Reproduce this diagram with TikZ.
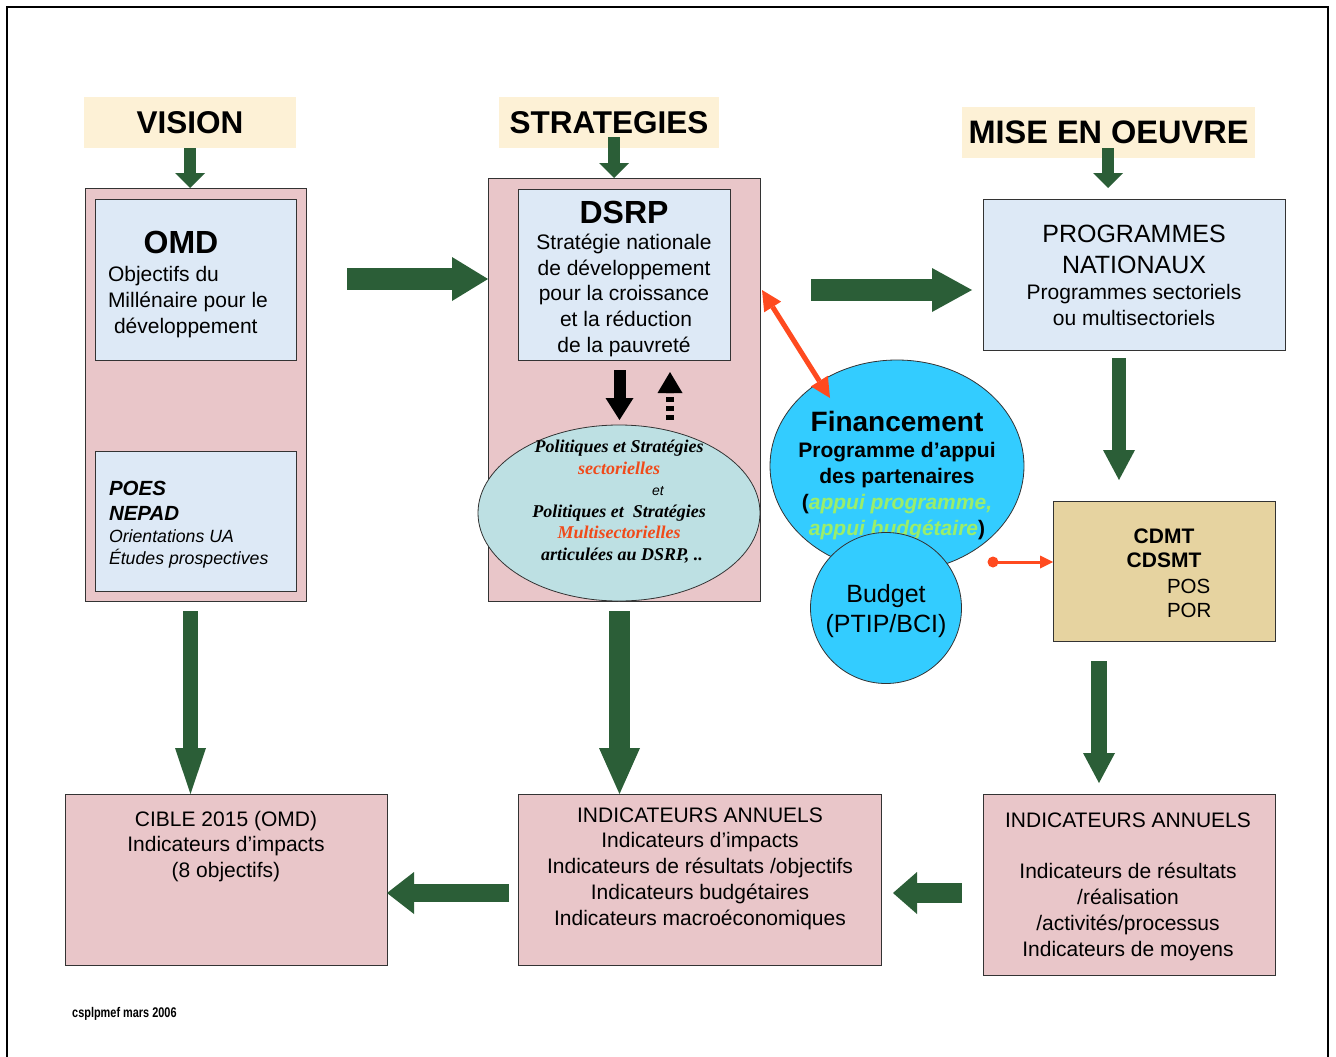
\documentclass[tikz,border=0pt]{standalone}
\usepackage{fontspec}
\setmainfont{Liberation Sans}
\newfontfamily\timesf{Liberation Serif}
\usetikzlibrary{arrows.meta,shapes.geometric}
\definecolor{pinkbox}{HTML}{E9C6C9}
\definecolor{bluebox}{HTML}{DDE9F6}
\definecolor{ellcol}{HTML}{BDE0E3}
\definecolor{circcol}{HTML}{33CCFF}
\definecolor{tancol}{HTML}{E6D3A0}
\definecolor{beige}{HTML}{FDF1D6}
\definecolor{gcol}{HTML}{2B5E37}
\definecolor{redcol}{HTML}{FF4A1F}
\definecolor{redt}{HTML}{F04A1A}
\definecolor{lgreen}{HTML}{9BEE6A}
\newcommand{\fs}[2]{\fontsize{#1}{#2}\selectfont}
\begin{document}
\begin{tikzpicture}[x=1pt,y=-1pt,
  box/.style={draw=black!80, line width=0.8pt, inner sep=0pt, outer sep=0pt},
  pinkb/.style={box, fill=pinkbox},
  blueb/.style={box, fill=bluebox},
  labelb/.style={fill=beige, inner sep=0pt, outer sep=0pt, font=\bfseries\fs{31.5}{31.5}},
  txt/.style={inner sep=0pt, outer sep=0pt, align=center, anchor=base},
  garr/.style n args={3}{draw=gcol, line width=#1, -{Triangle[length=#3, width=#2, line width=0pt]}},
  redarr/.style={draw=redcol, line width=5pt, {Triangle[length=20pt, width=20pt, line width=0pt]}-{Triangle[length=20pt, width=20pt, line width=0pt]}},
]
\useasboundingbox (0,0) rectangle (1336,1057);
\fill[white] (0,0) rectangle (1336,1057);
\draw[line width=1.5pt] (7,1065) -- (7,7) -- (1328,7) -- (1328,1065);

% header labels
\node[labelb, minimum width=212pt, minimum height=51pt] (vision) at (190,122.5) {VISION};
\node[labelb, minimum width=220pt, minimum height=51pt] (strat) at (609,122.5) {STRATEGIES};
\node[labelb, minimum width=293pt, minimum height=51pt, font=\bfseries\fs{32.5}{32.5}] (mise) at (1108.5,132.5) {MISE EN OEUVRE};

% left column
\node[pinkb, minimum width=221pt, minimum height=413pt] (leftbox) at (195.5,394.5) {};
\node[blueb, minimum width=201pt, minimum height=161pt] (omd) at (195.5,279.5) {};
\node[txt, font=\bfseries\fs{32}{32}] (omdtitle) at (181,253) {OMD};
\node[txt, anchor=base west, align=left, font=\fs{21}{26}] (omdtxt) at (108,333) {Objectifs du\\Millénaire pour le\\\hspace{6pt}développement};
\node[blueb, minimum width=201pt, minimum height=140pt] (poes) at (195.5,521) {};
\node[txt, anchor=base west, align=left, font=\bfseries\itshape\fs{20.5}{25}] (poestxt) at (109,520) {POES\\NEPAD};
\node[txt, anchor=base west, align=left, font=\itshape\fs{17.7}{22}] (poestxt2) at (109,564) {Orientations UA\\Études prospectives};

% middle column
\node[pinkb, minimum width=272pt, minimum height=423pt] (midbox) at (624,389.5) {};
\node[blueb, minimum width=212pt, minimum height=171pt] (dsrp) at (624,274.5) {};
\node[txt, font=\bfseries\fs{32}{32}] (dsrptitle) at (624,223) {DSRP};
\node[txt, font=\fs{21}{25.6}] (dsrptxt) at (624,352) {Stratégie nationale\\de développement\\pour la croissance\\\hspace{4pt}et la réduction\\de la pauvreté};
\node[draw=black!80, line width=0.8pt, fill=ellcol, ellipse, minimum width=282pt, minimum height=176pt, inner sep=0pt, outer sep=0pt] (ell) at (619,513) {};
\node[txt, font=\timesf\bfseries\itshape\fs{18}{21.5}] (elltxt) at (619,560) {Politiques et Stratégies\\\textcolor{redt}{sectorielles}\\\hspace{78pt}{\normalfont\itshape\fs{14}{21.5}et}\\Politiques et\ \ Stratégies\\\textcolor{redt}{Multisectorielles}\\\hspace{6pt}articulées au DSRP, ..};

% black arrows between DSRP and ellipse
\coordinate (bd1) at (619.5,370);
\coordinate (bd2) at (619.5,420);
\coordinate (bu1) at (670,420);
\coordinate (bu2) at (670,372);
\draw[line width=12pt, -{Triangle[length=22pt, width=28pt, line width=0pt]}] (bd1) -- (bd2);
\draw[line width=8pt, dash pattern=on 5pt off 4pt, -{Triangle[length=21pt, width=25pt, line width=0pt]}] (bu1) -- (bu2);

% right column
\node[blueb, minimum width=302pt, minimum height=151pt] (prog) at (1134,274.5) {};
\node[txt, font=\fs{25}{31}] (progtitle) at (1134,273) {PROGRAMMES\\NATIONAUX};
\node[txt, font=\fs{21}{25.5}] (progtxt) at (1134,325) {Programmes sectoriels\\ou multisectoriels};

\node[box, fill=tancol, minimum width=222pt, minimum height=140pt] (cdmt) at (1164,571) {};
\node[txt, font=\bfseries\fs{21}{24}] (cdmttxt) at (1164,567) {CDMT\\CDSMT};
\node[txt, anchor=base west, align=left, font=\fs{20.5}{24}] (postxt) at (1167,617) {POS\\POR};

% financing circles
\node[draw=black!80, line width=0.8pt, fill=circcol, ellipse, minimum width=254pt, minimum height=212pt, inner sep=0pt, outer sep=0pt] (fin) at (897,466) {};
\node[txt, font=\bfseries\fs{28}{28}] (fintitle) at (897,431) {Financement};
\node[txt, font=\bfseries\fs{21}{25.7}] (fintxt) at (897,535) {Programme d’appui\\des partenaires\\(\textcolor{lgreen}{\itshape appui programme,}\\\textcolor{lgreen}{\itshape appui budgétaire})};
\node[draw=black!80, line width=0.8pt, fill=circcol, circle, minimum size=151pt, inner sep=0pt, outer sep=0pt] (budget) at (886,608) {};
\node[txt, font=\fs{25}{30}] (budgettxt) at (886,632) {Budget\\(PTIP/BCI)};

% bottom row
\node[pinkb, minimum width=322pt, minimum height=171pt] (cible) at (226,879.5) {};
\node[txt, font=\fs{21}{25.5}] (cibletxt) at (226,877) {CIBLE 2015 (OMD)\\Indicateurs d’impacts\\(8 objectifs)};
\node[pinkb, minimum width=363pt, minimum height=171pt] (indmid) at (699.5,879.5) {};
\node[txt, font=\fs{21}{25.7}] (indmidtxt) at (700,925) {INDICATEURS ANNUELS\\Indicateurs d’impacts\\Indicateurs de résultats /objectifs\\Indicateurs budgétaires\\Indicateurs macroéconomiques};
\node[pinkb, minimum width=292pt, minimum height=181pt] (indright) at (1129,884.5) {};
\node[txt, font=\fs{21}{26}] (indrighttxt) at (1128,956) {INDICATEURS ANNUELS\\[25pt]Indicateurs de résultats\\/réalisation\\/activités/processus\\Indicateurs de moyens};

\node[inner sep=0pt, anchor=base west, font=\bfseries\fs{14}{14}] (footer) at (72,1017) {\scalebox{0.78}[1]{csplpmef mars 2006}};

% green arrows
\draw[garr={12pt}{30pt}{15pt}] (vision.south) -- (vision.south |- leftbox.north);
\draw[garr={12pt}{30pt}{15pt}] (614,137) -- (614,178);
\draw[garr={12pt}{30pt}{15pt}] (1108,148) -- (1108,188);
\coordinate (a4s) at (347,279);
\draw[garr={22pt}{44pt}{36pt}] (a4s) -- (a4s -| midbox.west);
\coordinate (a5s) at (811,290);
\coordinate (a5e) at (972,290);
\draw[garr={22pt}{44pt}{40pt}] (a5s) -- (a5e);
\coordinate (a6s) at (1119,358);
\coordinate (a6e) at (1119,480);
\draw[garr={14pt}{32pt}{30pt}] (a6s) -- (a6e);
\coordinate (a7s) at (1099,661);
\coordinate (a7e) at (1099,783);
\draw[garr={16pt}{32pt}{30pt}] (a7s) -- (a7e);
\coordinate (a8s) at (190.5,611);
\draw[garr={15pt}{31pt}{46pt}] (a8s) -- (a8s |- cible.north);
\coordinate (a9s) at (619.5,611);
\draw[garr={21pt}{41pt}{46pt}] (a9s) -- (a9s |- indmid.north);
\coordinate (a10s) at (962,893);
\coordinate (a10e) at (893,893);
\draw[garr={20pt}{42pt}{24pt}] (a10s) -- (a10e);
\coordinate (a11s) at (509,893);
\draw[garr={18pt}{42pt}{27pt}] (a11s) -- (a11s -| cible.east) ;

% red arrows
\coordinate (r1) at (762,290);
\coordinate (r2) at (830,398);
\draw[redarr] (r1) -- (r2);
\coordinate (rd) at (993,562);
\fill[redcol] (rd) circle (5.5pt);
\draw[draw=redcol, line width=3pt, -{Triangle[length=13pt, width=13pt, line width=0pt]}] (rd) -- (rd -| cdmt.west);
\end{tikzpicture}
\end{document}
